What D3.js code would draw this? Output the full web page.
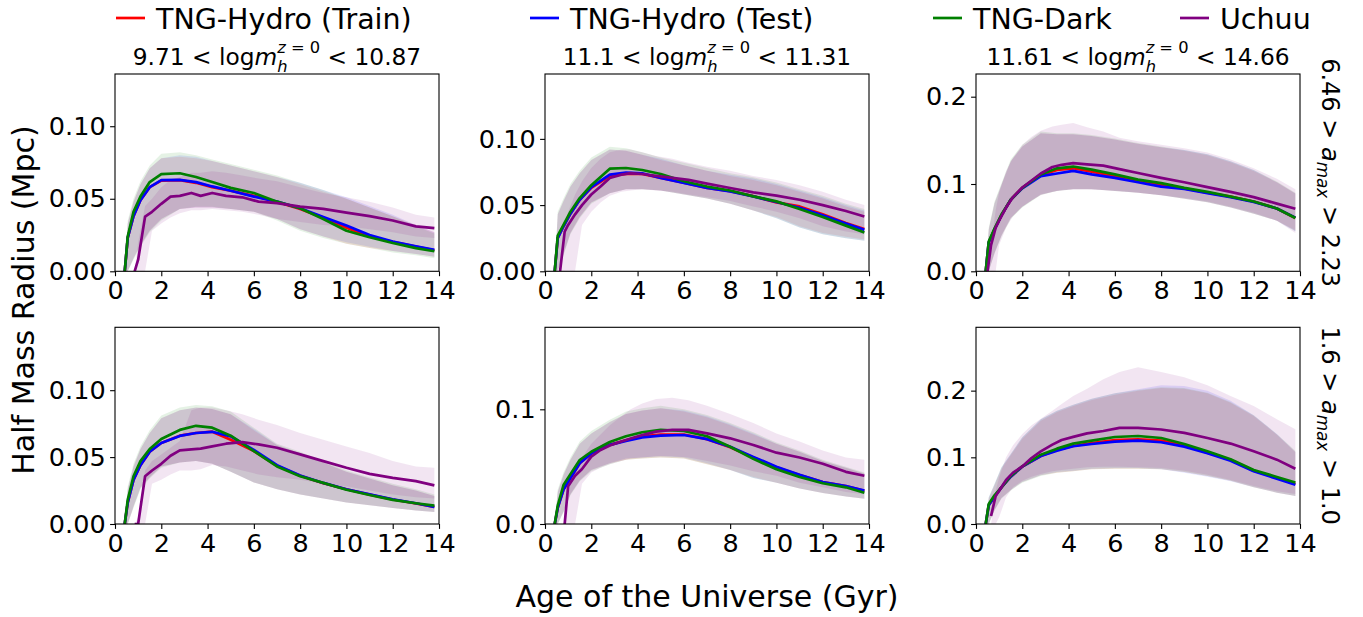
<!DOCTYPE html>
<html><head><meta charset="utf-8">
<script src="https://cdn.jsdelivr.net/npm/d3@7"></script>
<style>body{margin:0;background:#fff}text{font-family:"DejaVu Sans",sans-serif;fill:#000}</style>
</head><body><svg id="c" width="1363" height="617"></svg>
<script>
// ---------------- DATA ----------------
const tngAges = [0.42,0.55,0.8,1.1,1.5,2.0,2.8,3.5,4.2,5.0,6.0,7.0,8.0,9.0,10.0,11.0,12.0,13.0,13.8];
const uchuuAges = [0.5,0.65,0.85,1.0,1.3,1.6,2.0,2.4,2.8,3.3,3.7,4.2,4.8,5.5,6.2,7.0,8.0,9.0,10.0,11.0,12.0,13.0,13.8];
const seriesNames = ["TNG-Hydro (Train)","TNG-Hydro (Test)","TNG-Dark","Uchuu"];
const seriesColors = ["#ff0000","#0000ff","#008000","#800080"];
const massBins = [["9.71","10.87"],["11.1","11.31"],["11.61","14.66"]];
const amaxBins = [["6.46","2.23"],["1.6","1.0"]];
const xTicks = [0,2,4,6,8,10,12,14];
const yTicks = [[0,0.05,0.10],[0,0.05,0.10],[0,0.1,0.2],[0,0.05,0.10],[0,0.1],[0,0.1,0.2]];
const yTickDigits = [2,2,1,2,1,1];
const yMax = [0.136,0.149,0.226,0.147,0.1715,0.295];

// medians, panels in order: top-left, top-mid, top-right, bottom-left, bottom-mid, bottom-right
const trainMed = [
 [0,0.023,0.038,0.049,0.058,0.0625,0.0628,0.061,0.058,0.0555,0.052,0.0478,0.043,0.037,0.030,0.024,0.0203,0.017,0.0145],
 [0,0.025,0.034,0.0435,0.054,0.063,0.072,0.0735,0.0735,0.0705,0.067,0.063,0.0605,0.0568,0.052,0.049,0.043,0.0365,0.032],
 [0,0.033,0.048,0.064,0.082,0.0955,0.110,0.116,0.118,0.114,0.109,0.104,0.099,0.095,0.090,0.0855,0.080,0.072,0.061],
 [0,0.016,0.033,0.044,0.054,0.0605,0.066,0.068,0.069,0.063,0.0545,0.0435,0.036,0.0305,0.026,0.022,0.0183,0.0153,0.0128],
 [0,0.014,0.030,0.040,0.053,0.0616,0.069,0.073,0.0765,0.078,0.078,0.074,0.067,0.058,0.0495,0.0428,0.0365,0.033,0.029],
 [0,0.028,0.041,0.055,0.071,0.086,0.102,0.111,0.117,0.1215,0.126,0.127,0.125,0.118,0.107,0.096,0.080,0.069,0.060]
];
const testMed = [
 [0,0.023,0.038,0.049,0.058,0.0628,0.063,0.0615,0.0585,0.0555,0.0515,0.048,0.0435,0.0375,0.0315,0.025,0.0205,0.0172,0.0148],
 [0,0.025,0.034,0.0435,0.054,0.0635,0.073,0.0745,0.074,0.0705,0.0667,0.0629,0.0604,0.0566,0.0523,0.048,0.0423,0.036,0.0313],
 [0,0.033,0.048,0.064,0.082,0.095,0.109,0.112,0.115,0.111,0.107,0.102,0.097,0.0945,0.0895,0.085,0.0795,0.072,0.0615],
 [0,0.016,0.033,0.044,0.054,0.0605,0.0658,0.068,0.0689,0.0655,0.0553,0.044,0.0362,0.0307,0.026,0.0222,0.0185,0.0155,0.0127],
 [0,0.014,0.030,0.040,0.053,0.0616,0.069,0.0725,0.0755,0.077,0.0776,0.074,0.0674,0.0585,0.050,0.043,0.0365,0.033,0.0291],
 [0,0.028,0.041,0.055,0.071,0.086,0.102,0.110,0.1166,0.120,0.1235,0.125,0.1226,0.116,0.106,0.095,0.079,0.068,0.0588]
];
const darkMed = [
 [0,0.024,0.041,0.0515,0.0615,0.067,0.0676,0.065,0.0615,0.0575,0.054,0.048,0.0435,0.036,0.028,0.0235,0.0195,0.016,0.0138],
 [0,0.027,0.035,0.045,0.0553,0.065,0.0775,0.078,0.0765,0.0735,0.068,0.064,0.061,0.0566,0.0528,0.047,0.041,0.0345,0.0293],
 [0,0.034,0.049,0.065,0.082,0.0955,0.111,0.118,0.120,0.1165,0.111,0.105,0.101,0.0955,0.091,0.0855,0.080,0.072,0.061],
 [0,0.018,0.0357,0.047,0.056,0.0635,0.0703,0.0734,0.072,0.066,0.0545,0.043,0.0357,0.0307,0.0256,0.0217,0.018,0.0155,0.0137],
 [0,0.016,0.034,0.0435,0.0558,0.063,0.0715,0.0765,0.080,0.082,0.0811,0.0765,0.0674,0.0568,0.0477,0.041,0.0355,0.032,0.0273],
 [0,0.030,0.043,0.055,0.072,0.0865,0.104,0.113,0.1205,0.125,0.1305,0.132,0.129,0.120,0.109,0.097,0.081,0.0705,0.0623]
];
const uchuuMed = [
 [null,null,0,0.008,0.0377,0.041,0.0465,0.0515,0.052,0.054,0.052,0.054,0.052,0.051,0.048,0.047,0.0446,0.043,0.0405,0.038,0.035,0.031,0.0297],
 [null,0,0.030,0.035,0.043,0.05,0.058,0.064,0.0705,0.073,0.0742,0.0735,0.072,0.0705,0.069,0.0662,0.0629,0.0596,0.0571,0.054,0.050,0.0455,0.0414],
 [0,0.030,0.050,0.058,0.073,0.085,0.096,0.104,0.112,0.1195,0.122,0.124,0.1225,0.121,0.117,0.1126,0.107,0.102,0.0965,0.091,0.085,0.0775,0.0716],
 [null,null,0,0,0.0357,0.040,0.045,0.051,0.055,0.0558,0.0563,0.058,0.060,0.0612,0.0595,0.057,0.052,0.047,0.042,0.0375,0.0345,0.032,0.0289],
 [null,null,0,0.033,0.042,0.048,0.0587,0.0645,0.0685,0.072,0.0745,0.0775,0.0805,0.082,0.082,0.079,0.0747,0.0689,0.0622,0.058,0.0525,0.0455,0.0421],
 [null,0.012,0.042,0.05,0.066,0.077,0.0864,0.099,0.109,0.119,0.126,0.1307,0.136,0.1395,0.1442,0.1442,0.1417,0.1367,0.129,0.1206,0.109,0.0965,0.0829]
];
// 16-84 percentile bands
const trainHi = [
 [0,0.033,0.048,0.060,0.071,0.078,0.079,0.078,0.076,0.073,0.069,0.065,0.060,0.055,0.050,0.044,0.038,0.032,0.027],
 [0,0.043,0.053,0.064,0.074,0.084,0.092,0.091,0.088,0.084,0.080,0.076,0.072,0.069,0.065,0.060,0.055,0.049,0.045],
 [0,0.048,0.078,0.099,0.126,0.143,0.158,0.157,0.157,0.155,0.151,0.146,0.142,0.138,0.133,0.125,0.115,0.102,0.089],
 [0,0.026,0.043,0.056,0.068,0.079,0.085,0.087,0.086,0.082,0.070,0.059,0.053,0.046,0.039,0.034,0.029,0.025,0.021],
 [0,0.028,0.043,0.056,0.070,0.079,0.089,0.096,0.099,0.101,0.098,0.093,0.086,0.078,0.070,0.063,0.055,0.049,0.044],
 [0,0.038,0.058,0.083,0.103,0.128,0.155,0.168,0.177,0.186,0.194,0.200,0.204,0.203,0.196,0.182,0.162,0.134,0.108]
];
const trainLo = [
 [0,0,0.009,0.018,0.028,0.036,0.043,0.044,0.044,0.043,0.041,0.036,0.029,0.024,0.019,0.016,0.014,0.012,0.010],
 [0,0,0.013,0.029,0.041,0.052,0.059,0.062,0.062,0.061,0.058,0.055,0.051,0.046,0.041,0.034,0.029,0.026,0.024],
 [0,0,0.021,0.041,0.061,0.074,0.088,0.092,0.094,0.094,0.092,0.090,0.087,0.083,0.079,0.073,0.066,0.058,0.047],
 [0,0,0.013,0.027,0.035,0.043,0.046,0.047,0.045,0.039,0.031,0.026,0.022,0.019,0.016,0.014,0.012,0.010,0.009],
 [0,0,0.011,0.026,0.038,0.047,0.053,0.056,0.057,0.058,0.057,0.052,0.047,0.041,0.036,0.031,0.027,0.024,0.022],
 [0,0,0.021,0.039,0.051,0.063,0.073,0.077,0.079,0.082,0.083,0.083,0.082,0.078,0.072,0.065,0.055,0.047,0.042]
];
const testHi = [
 [0,0.033,0.048,0.060,0.071,0.078,0.080,0.079,0.076,0.073,0.069,0.065,0.061,0.056,0.051,0.045,0.039,0.032,0.027],
 [0,0.043,0.053,0.064,0.074,0.084,0.092,0.091,0.088,0.085,0.080,0.076,0.073,0.070,0.066,0.061,0.056,0.050,0.046],
 [0,0.048,0.078,0.099,0.126,0.143,0.158,0.157,0.157,0.155,0.151,0.146,0.142,0.139,0.134,0.126,0.116,0.102,0.089],
 [0,0.026,0.043,0.056,0.068,0.079,0.085,0.087,0.086,0.082,0.071,0.059,0.053,0.046,0.039,0.034,0.029,0.025,0.021],
 [0,0.028,0.043,0.056,0.070,0.079,0.089,0.096,0.099,0.101,0.099,0.094,0.087,0.079,0.070,0.063,0.055,0.049,0.044],
 [0,0.040,0.060,0.085,0.105,0.130,0.157,0.170,0.179,0.188,0.196,0.202,0.208,0.207,0.200,0.185,0.163,0.135,0.108]
];
const testLo = [
 [0,0,0.009,0.018,0.028,0.036,0.043,0.044,0.044,0.043,0.041,0.036,0.029,0.024,0.020,0.017,0.014,0.012,0.010],
 [0,0,0.013,0.029,0.041,0.052,0.059,0.062,0.062,0.061,0.058,0.055,0.051,0.046,0.040,0.033,0.028,0.025,0.023],
 [0,0,0.021,0.041,0.061,0.074,0.088,0.092,0.094,0.094,0.092,0.090,0.087,0.083,0.079,0.073,0.066,0.058,0.046],
 [0,0,0.013,0.027,0.035,0.043,0.046,0.047,0.045,0.039,0.031,0.026,0.022,0.019,0.016,0.014,0.012,0.010,0.009],
 [0,0,0.011,0.026,0.038,0.047,0.053,0.057,0.058,0.059,0.058,0.053,0.047,0.040,0.036,0.031,0.027,0.024,0.022],
 [0,0,0.021,0.039,0.051,0.063,0.073,0.078,0.080,0.083,0.084,0.084,0.082,0.077,0.071,0.064,0.055,0.047,0.042]
];
const darkHi = [
 [0,0.035,0.050,0.062,0.073,0.081,0.082,0.080,0.077,0.074,0.070,0.066,0.061,0.056,0.050,0.044,0.038,0.031,0.026],
 [0,0.045,0.055,0.066,0.076,0.086,0.094,0.093,0.090,0.086,0.082,0.078,0.074,0.071,0.067,0.062,0.057,0.051,0.047],
 [0,0.050,0.080,0.101,0.128,0.145,0.160,0.158,0.158,0.156,0.152,0.147,0.143,0.139,0.134,0.126,0.116,0.103,0.090],
 [0,0.028,0.045,0.058,0.070,0.081,0.087,0.089,0.088,0.084,0.072,0.060,0.054,0.047,0.040,0.035,0.030,0.026,0.022],
 [0,0.030,0.045,0.058,0.072,0.081,0.091,0.098,0.101,0.103,0.100,0.095,0.088,0.080,0.071,0.064,0.056,0.050,0.045],
 [0,0.040,0.060,0.085,0.105,0.130,0.157,0.170,0.179,0.188,0.196,0.201,0.205,0.204,0.197,0.183,0.163,0.135,0.110]
];
const darkLo = [
 [0,0,0.008,0.017,0.027,0.035,0.043,0.0445,0.0445,0.043,0.041,0.035,0.028,0.023,0.019,0.016,0.013,0.011,0.009],
 [0,0,0.012,0.028,0.040,0.051,0.059,0.062,0.062,0.061,0.058,0.055,0.051,0.046,0.040,0.033,0.028,0.025,0.023],
 [0,0,0.020,0.040,0.060,0.073,0.0875,0.092,0.094,0.094,0.092,0.090,0.087,0.083,0.079,0.073,0.066,0.058,0.046],
 [0,0,0.012,0.026,0.034,0.042,0.046,0.047,0.045,0.039,0.031,0.026,0.022,0.019,0.016,0.014,0.012,0.010,0.009],
 [0,0,0.010,0.025,0.037,0.046,0.052,0.056,0.057,0.058,0.057,0.052,0.047,0.040,0.036,0.031,0.027,0.024,0.022],
 [0,0,0.020,0.038,0.050,0.062,0.072,0.077,0.079,0.082,0.083,0.083,0.082,0.078,0.072,0.065,0.055,0.047,0.042]
];
const uchuuHi = [
 [null,null,0,0.020,0.045,0.050,0.058,0.063,0.065,0.068,0.068,0.069,0.068,0.066,0.064,0.062,0.058,0.054,0.051,0.048,0.044,0.039,0.037],
 [null,0,0.035,0.045,0.058,0.068,0.078,0.085,0.090,0.092,0.092,0.090,0.087,0.085,0.082,0.079,0.076,0.072,0.069,0.065,0.060,0.054,0.050],
 [0,0.030,0.070,0.090,0.115,0.130,0.145,0.154,0.161,0.166,0.168,0.170,0.165,0.160,0.153,0.149,0.145,0.141,0.136,0.128,0.118,0.106,0.094],
 [null,null,0,0.005,0.040,0.047,0.052,0.057,0.062,0.085,0.087,0.087,0.085,0.082,0.078,0.074,0.068,0.063,0.058,0.053,0.047,0.043,0.042],
 [null,null,0,0.030,0.045,0.058,0.070,0.078,0.086,0.094,0.100,0.105,0.109,0.110,0.108,0.103,0.096,0.088,0.079,0.072,0.064,0.058,0.056],
 [null,0,0.050,0.070,0.100,0.118,0.135,0.148,0.158,0.170,0.180,0.192,0.203,0.217,0.228,0.235,0.228,0.220,0.208,0.192,0.177,0.157,0.142]
];
const uchuuLo = [
 [null,null,0,0,0,0.028,0.033,0.037,0.040,0.042,0.042,0.043,0.042,0.041,0.039,0.036,0.034,0.032,0.031,0.029,0.027,0.024,0.023],
 [null,0,0,0,0,0.035,0.045,0.052,0.057,0.060,0.061,0.062,0.061,0.060,0.058,0.056,0.053,0.049,0.045,0.040,0.034,0.030,0.028],
 [0,0,0,0.030,0.050,0.063,0.074,0.081,0.087,0.091,0.093,0.094,0.094,0.093,0.092,0.090,0.087,0.084,0.080,0.074,0.067,0.058,0.044],
 [null,null,0,0,0,0.030,0.033,0.037,0.040,0.040,0.041,0.044,0.043,0.040,0.037,0.035,0.033,0.030,0.028,0.025,0.022,0.020,0.019],
 [null,null,0,0,0,0.035,0.045,0.049,0.052,0.055,0.057,0.058,0.059,0.059,0.058,0.055,0.051,0.046,0.042,0.036,0.032,0.028,0.026],
 [null,0,0,0.010,0.040,0.055,0.065,0.071,0.075,0.079,0.081,0.083,0.085,0.086,0.086,0.085,0.084,0.080,0.074,0.066,0.057,0.049,0.045]
];

// ---------------- LAYOUT ----------------
const svg = d3.select("#c");
const FF = '"DejaVu Sans", sans-serif';
const cols = [[115,439],[545,869],[976,1300]];
const rows = [[74,271.3],[327.3,524]];
const tickFS = 25.5;
const series = [
  {med: trainMed, lo: trainLo, hi: trainHi, ages: tngAges},
  {med: testMed, lo: testLo, hi: testHi, ages: tngAges},
  {med: darkMed, lo: darkLo, hi: darkHi, ages: tngAges},
  {med: uchuuMed, lo: uchuuLo, hi: uchuuHi, ages: uchuuAges}
];

for (let r = 0; r < 2; r++) {
  for (let c = 0; c < 3; c++) {
    const p = r * 3 + c;
    const [x0, x1] = cols[c], [y0, y1] = rows[r];
    const x = d3.scaleLinear().domain([0, 14]).range([x0, x1]);
    const y = d3.scaleLinear().domain([0, yMax[p]]).range([y1, y0]);
    const g = svg.append("g");
    const cid = "clip" + p;
    svg.append("clipPath").attr("id", cid).append("rect")
      .attr("x", x0).attr("y", y0).attr("width", x1 - x0).attr("height", y1 - y0);
    const plot = g.append("g").attr("clip-path", `url(#${cid})`);
    // bands
    series.forEach((s, k) => {
      const ages = s.ages, lo = s.lo[p], hi = s.hi[p];
      const area = d3.area()
        .defined((d, i) => lo[i] != null && hi[i] != null)
        .x((d, i) => x(ages[i])).y0((d, i) => y(lo[i])).y1((d, i) => y(hi[i]));
      plot.append("path").attr("d", area(ages))
        .attr("fill", seriesColors[k]).attr("fill-opacity", 0.1);
    });
    // lines
    series.forEach((s, k) => {
      const ages = s.ages, m = s.med[p];
      const line = d3.line().defined((d, i) => m[i] != null)
        .x((d, i) => x(ages[i])).y((d, i) => y(m[i]));
      plot.append("path").attr("d", line(ages)).attr("fill", "none")
        .attr("stroke", seriesColors[k]).attr("stroke-width", 2.7)
        .attr("stroke-linejoin", "round");
    });
    // axes
    const fmt = d3.format("." + yTickDigits[p] + "f");
    const ax = g.append("g").attr("transform", `translate(0,${y1})`)
      .call(d3.axisBottom(x).tickValues(xTicks).tickFormat(d3.format("d")).tickSize(4.9).tickPadding(4.5));
    const ay = g.append("g").attr("transform", `translate(${x0},0)`)
      .call(d3.axisLeft(y).tickValues(yTicks[p]).tickFormat(fmt).tickSize(4.9).tickPadding(4.5));
    [ax, ay].forEach(a => {
      a.select(".domain").remove();
      a.selectAll("line").attr("stroke", "#000").attr("stroke-width", 1.1);
      a.selectAll("text").attr("font-size", tickFS).attr("font-family", FF).attr("fill", "#000");
    });
    g.append("rect").attr("x", x0).attr("y", y0).attr("width", x1 - x0).attr("height", y1 - y0)
      .attr("fill", "none").attr("stroke", "#000").attr("stroke-width", 1.1);
  }
}

// column titles (mathtext-like)
const titleFS = 23.3;
massBins.forEach((b, c) => {
  const cx = (cols[c][0] + cols[c][1]) / 2;
  const t = svg.append("text").attr("x", cx).attr("y", 64.5).attr("text-anchor", "middle")
    .attr("font-size", titleFS).attr("font-family", FF);
  t.append("tspan").text(b[0] + " < log");
  t.append("tspan").attr("font-style", "italic").text("m");
  const sup = t.append("tspan").attr("font-size", titleFS * 0.7).attr("dy", -11.5);
  sup.append("tspan").attr("font-style", "italic").text("z");
  sup.append("tspan").text(" = 0");
  const wSup = sup.node().getComputedTextLength();
  const sub = t.append("tspan").attr("font-size", titleFS * 0.7).attr("font-style", "italic")
    .attr("dx", -wSup).attr("dy", 18.5).text("h");
  const wSub = sub.node().getComputedTextLength();
  t.append("tspan").attr("dx", wSup - wSub).attr("dy", -7).text(" < " + b[1]);
});

// row labels on right
const rowFS = 24;
amaxBins.forEach((b, r) => {
  const cy = (rows[r][0] + rows[r][1]) / 2;
  const t = svg.append("text").attr("transform", `translate(1322,${cy}) rotate(90)`)
    .attr("text-anchor", "middle").attr("font-size", rowFS).attr("font-family", FF);
  t.append("tspan").text(b[0] + " > ");
  t.append("tspan").attr("font-style", "italic").text("a");
  t.append("tspan").attr("font-style", "italic").attr("font-size", rowFS * 0.7).attr("dy", rowFS * 0.22).text("max");
  t.append("tspan").attr("dy", -rowFS * 0.22).text(" > " + b[1]);
});

// legend
const legFS = 28.5;
const legX = [116, 530, 933, 1180];
seriesNames.forEach((n, k) => {
  svg.append("line").attr("x1", legX[k]).attr("x2", legX[k] + 29).attr("y1", 18).attr("y2", 18)
    .attr("stroke", seriesColors[k]).attr("stroke-width", 2.7);
  svg.append("text").attr("x", legX[k] + 40).attr("y", 28.5).attr("font-size", legFS)
    .attr("font-family", FF).text(n);
});

// axis labels
svg.append("text").attr("x", 707).attr("y", 607).attr("text-anchor", "middle")
  .attr("font-size", 30).attr("font-family", FF).text("Age of the Universe (Gyr)");
svg.append("text").attr("transform", "translate(34,300) rotate(-90)").attr("text-anchor", "middle")
  .attr("font-size", 30).attr("font-family", FF).text("Half Mass Radius (Mpc)");
</script></body></html>
